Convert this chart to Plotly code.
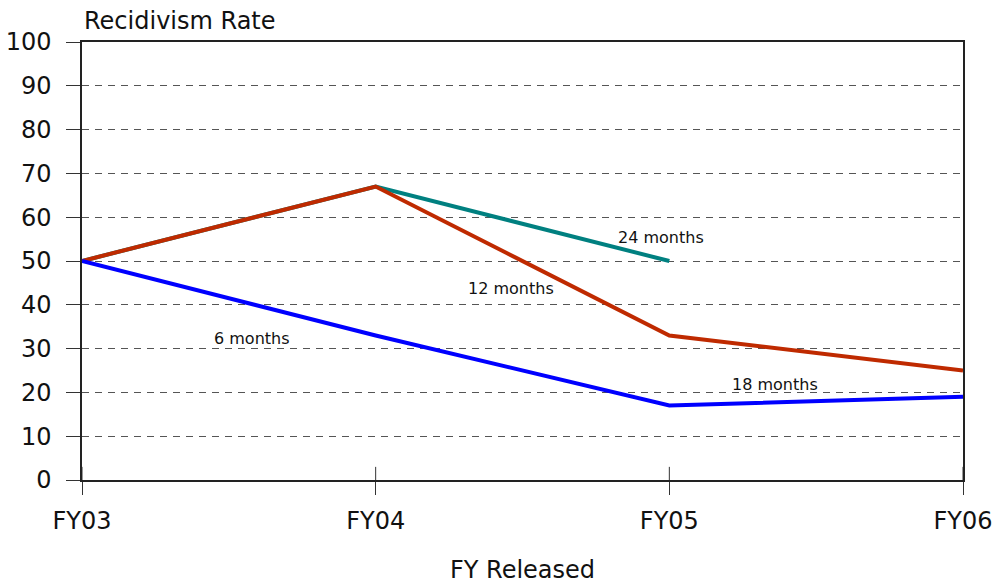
import plotly.graph_objects as go

# Recidivism rate by fiscal year released
years = ["FY03", "FY04", "FY05", "FY06"]
m24 = [50, 67, 50, None]
m12 = [50, 67, 33, 25]
m6 = [50, 33, 17, 19]

# label text and their spots (data coords)
labels = ["24 months", "12 months", "6 months", "18 months"]
label_x = [1.97, 1.46, 0.58, 2.36]
label_y = [55.3, 43.8, 32.4, 21.9]

xs = list(range(len(years)))
font = "DejaVu Sans"

fig = go.Figure()
fig.add_trace(go.Scatter(x=xs, y=m24, mode="lines",
                         line=dict(color="#008080", width=4), name="24 months"))
fig.add_trace(go.Scatter(x=xs, y=m12, mode="lines",
                         line=dict(color="#BF2A00", width=4), name="12 months"))
fig.add_trace(go.Scatter(x=xs, y=m6, mode="lines",
                         line=dict(color="#0000FF", width=4), name="6 months"))

for t, x, y in zip(labels, label_x, label_y):
    fig.add_annotation(x=x, y=y, text=t, showarrow=False,
                       font=dict(family=font, size=16, color="#111"))

# tick marks cross the x axis: draw the inner half
for i in xs:
    fig.add_shape(type="line", x0=i, x1=i, xref="x", yref="y domain",
                  y0=0, y1=0.03, line=dict(color="#333", width=1))

fig.add_annotation(text="Recidivism Rate", xref="paper", yref="paper",
                   x=0, y=1, xanchor="left", yanchor="bottom", yshift=5,
                   showarrow=False, font=dict(family=font, size=24, color="#111"))

fig.update_layout(
    width=999, height=588,
    margin=dict(l=82, r=36, t=42, b=108),
    paper_bgcolor="white", plot_bgcolor="white",
    showlegend=False,
    font=dict(family=font, size=24, color="#111"),
    xaxis=dict(range=[0, 3], tickvals=xs, ticktext=years,
               showgrid=False, zeroline=False, automargin=False,
               showline=True, linecolor="#222", linewidth=1.5, mirror=True,
               ticks="outside", ticklen=13, tickcolor="#333",
               ticklabelstandoff=5,
               title=dict(text="FY Released", standoff=28,
                          font=dict(family=font, size=24))),
    yaxis=dict(range=[0, 100], dtick=10, automargin=False,
               showgrid=True, gridcolor="#555", gridwidth=1, griddash="7px,6px",
               zeroline=False,
               showline=True, linecolor="#222", linewidth=1.5, mirror=True,
               ticks="outside", ticklen=14, tickcolor="#333",
               ticklabelstandoff=10),
)

# drop the default 8px page margin so the figure fills the window
fig.write_html("out.html", config={"displayModeBar": False},
               post_script="document.body.style.margin='0';")
